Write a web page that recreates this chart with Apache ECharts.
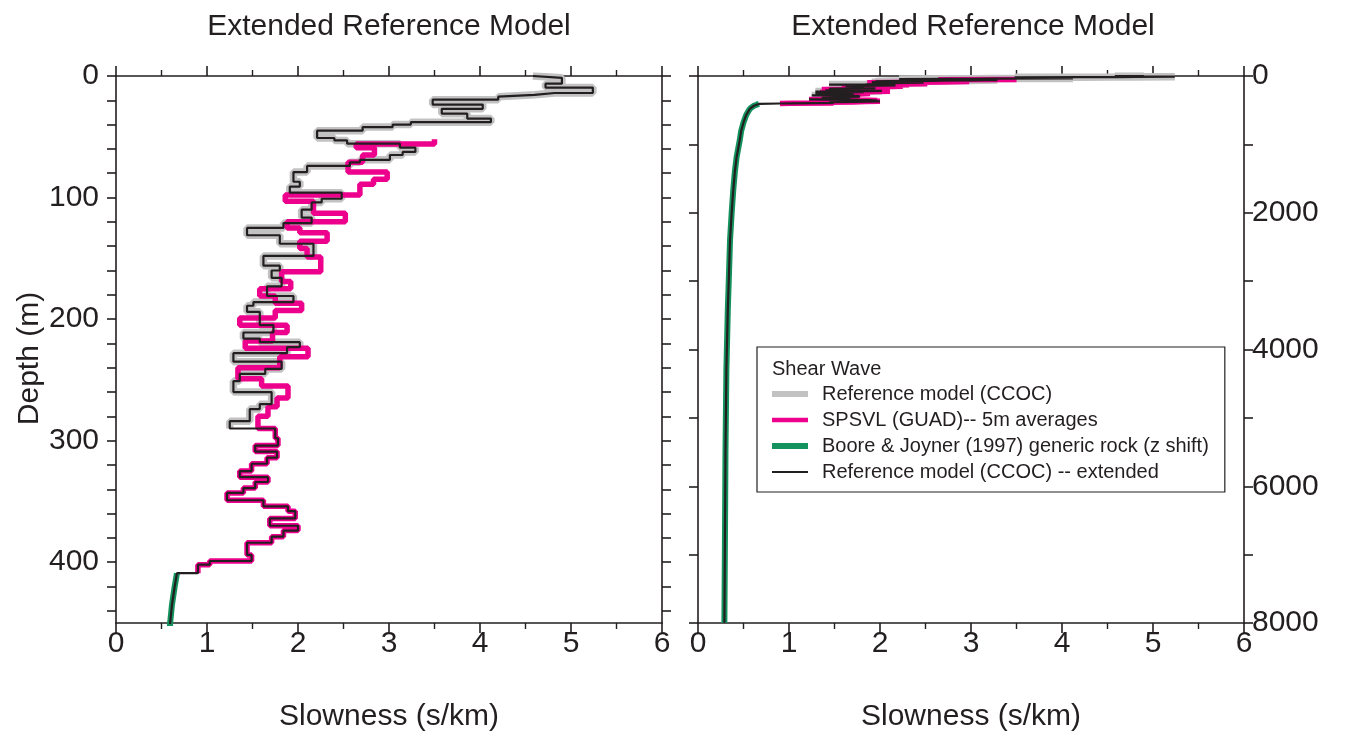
<!DOCTYPE html>
<html>
<head>
<meta charset="utf-8">
<title>Extended Reference Model</title>
<script src="https://cdn.jsdelivr.net/npm/echarts/dist/echarts.min.js"></script>
<style>
  html, body { margin: 0; padding: 0; background: #fff; }
  #main { width: 1346px; height: 737px; }
</style>
</head>
<body>
<div id="main"></div>
<script>
// reference model (CCOC): layer boundaries (m) and slowness (s/km) of each layer
var refDepth = [0, 1.5, 6.3, 9.5, 14, 15.5, 17, 19.5, 23.5, 27, 31, 35, 38, 40, 42, 45, 51, 53, 55.7, 59,
  62.5, 65, 69, 71, 74, 79, 87, 91, 96, 101, 104, 110, 116.5, 121, 125, 131, 138, 148, 156, 160,
  166, 173, 181, 186, 189, 194, 205, 211, 216, 219, 223, 228, 235, 241, 245, 251, 260, 270, 274, 284, 290];
var refSlow = [4.58, 4.90, 4.72, 5.24, 4.82, 4.60, 4.20, 3.48, 4.03, 3.58, 3.86, 4.12, 3.24, 3.04, 2.71, 2.21, 2.40, 2.54, 3.12, 3.29,
  3.15, 3.01, 2.68, 2.57, 2.10, 1.95, 2.02, 1.91, 2.48, 2.26, 2.15, 2.04, 2.15, 1.84, 1.44, 1.80, 2.17, 1.62, 1.80, 1.71,
  1.82, 1.66, 1.95, 1.51, 1.44, 1.58, 1.73, 1.40, 1.58, 2.02, 1.88, 1.29, 1.82, 1.64, 1.36, 1.29, 1.71, 1.58, 1.47, 1.25];

// SPSVL (GUAD) 5 m averages
var pinkDepth = [52, 56, 59, 65, 71, 79, 85, 89, 98, 103, 113, 120, 125, 129, 136, 142, 149, 161, 169, 175,
  181, 187, 193, 199, 205, 211, 218, 224, 231, 240, 249, 255, 265, 272, 280, 290, 298, 304, 309, 314,
  319, 325, 330, 334, 339, 343, 349, 354, 358, 364, 370, 374, 379, 384, 394, 399, 402, 409];
var pinkSlow = [3.50, 2.64, 2.84, 2.71, 2.55, 2.98, 2.83, 2.68, 1.86, 2.17, 2.52, 1.88, 2.02, 2.32, 2.02, 2.10, 2.25, 1.82, 1.92, 1.58,
  1.75, 2.04, 1.75, 1.36, 1.88, 1.72, 1.42, 2.11, 1.80, 1.34, 1.60, 1.89, 1.77, 1.67, 1.56, 1.75, 1.78, 1.53, 1.77, 1.66,
  1.49, 1.36, 1.67, 1.53, 1.40, 1.22, 1.62, 1.89, 1.97, 1.69, 2.00, 1.84, 1.71, 1.44, 1.49, 1.03, 0.90];

// Boore & Joyner (1997) generic rock, shifted in depth
var bjDepth = [409, 420, 435, 450, 470, 500, 570, 680, 800, 930, 1180, 1400, 1660, 2000, 2400, 3000, 3400, 4300, 5500, 7000, 8000];
var bjSlow = [0.67, 0.645, 0.615, 0.595, 0.578, 0.56, 0.53, 0.50, 0.475, 0.46, 0.425, 0.405, 0.388, 0.37, 0.352, 0.338, 0.328, 0.312, 0.302, 0.295, 0.29];

// axis ticks / labels
var xLabels = [0, 1, 2, 3, 4, 5, 6];
var leftDepthTicks = [0, 20, 40, 60, 80, 100, 120, 140, 160, 180, 200, 220, 240, 260, 280, 300, 320, 340, 360, 380, 400, 420, 440];
var leftDepthLabels = [0, 100, 200, 300, 400];
var rightDepthTicks = [0, 1000, 2000, 3000, 4000, 5000, 6000, 7000, 8000];
var rightDepthLabels = [0, 2000, 4000, 6000, 8000];

var names = ["Reference model (CCOC)", "SPSVL (GUAD)-- 5m averages",
  "Boore & Joyner (1997) generic rock (z shift)", "Reference model (CCOC) -- extended"];

var ink = "#231f20";
var gray = "#c2c2c2";
var pink = "#ec008c";
var green = "#14935e";
var font = "'Liberation Sans', Arial, Helvetica, sans-serif";

function steps(depths, slows) {
  var pts = [];
  for (var i = 0; i < slows.length; i++) {
    pts.push([slows[i], depths[i]]);
    pts.push([slows[i], depths[i + 1]]);
  }
  return pts;
}

var refPts = steps(refDepth, refSlow);
var pinkPts = steps(pinkDepth, pinkSlow);
var bjPts = bjDepth.map(function (d, i) { return [bjSlow[i], d]; });
var k = pinkDepth.indexOf(290);
var extPts = refPts.concat(steps(pinkDepth.slice(k), pinkSlow.slice(k))).concat(bjPts);

function xAxis(grid, pos, withName) {
  return {
    type: "value", gridIndex: grid, position: pos, min: 0, max: 6, interval: 1,
    axisLine: { show: true, onZero: false, lineStyle: { color: ink, width: 1.6 } },
    axisTick: { show: true, length: 10, lineStyle: { color: ink, width: 1.6 } },
    minorTick: { show: true, splitNumber: 2, length: 6, lineStyle: { color: ink, width: 1.4 } },
    splitLine: { show: false },
    axisLabel: {
      show: pos == "bottom", color: ink, fontSize: 30, fontFamily: font, margin: 6,
      customValues: xLabels
    },
    name: withName ? "Slowness (s/km)" : "",
    nameLocation: "middle", nameGap: 79,
    nameTextStyle: { color: ink, fontSize: 30, fontFamily: font }
  };
}

function yAxis(grid, pos, max, ticks, labels, showLabel, name) {
  return {
    type: "value", gridIndex: grid, position: pos, inverse: true, min: 0, max: max,
    axisLine: { show: true, onZero: false, lineStyle: { color: ink, width: 1.6 } },
    axisTick: { show: true, length: 9, customValues: ticks, lineStyle: { color: ink, width: 1.6 } },
    splitLine: { show: false },
    axisLabel: {
      show: showLabel, color: ink, fontSize: 30, fontFamily: font,
      margin: pos == "left" ? 17 : 8, customValues: labels,
      formatter: function (v) { return String(v); }
    },
    name: name || "",
    nameLocation: "middle", nameGap: 70,
    nameTextStyle: { color: ink, fontSize: 30, fontFamily: font, padding: [0, 18, 0, 0] }
  };
}

function panelSeries(xi, yi) {
  return [
    {
      name: names[0], type: "line", xAxisIndex: xi, yAxisIndex: yi, data: refPts,
      symbol: "none", lineStyle: { color: gray, width: 7.5 }, itemStyle: { color: gray }, z: 2
    },
    {
      name: names[1], type: "line", xAxisIndex: xi, yAxisIndex: yi, data: pinkPts,
      symbol: "none", lineStyle: { color: pink, width: 5.5 }, itemStyle: { color: pink }, z: 3
    },
    {
      name: names[2], type: "line", xAxisIndex: xi, yAxisIndex: yi, data: bjPts,
      symbol: "none", lineStyle: { color: green, width: 6 }, itemStyle: { color: green }, z: 3
    },
    {
      name: names[3], type: "line", xAxisIndex: xi, yAxisIndex: yi, data: extPts,
      symbol: "none", lineStyle: { color: ink, width: 2.2 }, itemStyle: { color: ink }, z: 4
    }
  ];
}

var myChart = echarts.init(document.getElementById("main"));
var option = {
  animation: false,
  textStyle: { fontFamily: font, color: ink },
  title: [
    { text: "Extended Reference Model", left: 384, top: 7, textAlign: "center",
      textStyle: { fontSize: 30, fontWeight: "normal", color: ink, fontFamily: font } },
    { text: "Extended Reference Model", left: 968, top: 7, textAlign: "center",
      textStyle: { fontSize: 30, fontWeight: "normal", color: ink, fontFamily: font } }
  ],
  grid: [
    { left: 116, top: 76, width: 546, height: 548 },
    { left: 698, top: 76, width: 546, height: 548 }
  ],
  xAxis: [xAxis(0, "bottom", true), xAxis(0, "top", false), xAxis(1, "bottom", true), xAxis(1, "top", false)],
  yAxis: [
    yAxis(0, "left", 450, leftDepthTicks, leftDepthLabels, true, "Depth (m)"),
    yAxis(0, "right", 450, leftDepthTicks, leftDepthLabels, false),
    yAxis(1, "left", 8000, rightDepthTicks, rightDepthLabels, false),
    yAxis(1, "right", 8000, rightDepthTicks, rightDepthLabels, true)
  ],
  legend: {
    data: [
      { name: names[0], icon: "path://M0,0H36V6H0Z" },
      { name: names[1], icon: "path://M0,0H36V4.5H0Z" },
      { name: names[2], icon: "path://M0,0H36V6H0Z" },
      { name: names[3], icon: "path://M0,0H36V2.2H0Z" }
    ],
    orient: "vertical", left: 757, top: 347,
    padding: [37, 16, 10, 15], itemGap: 6, itemWidth: 36, itemHeight: 14,
    borderColor: ink, borderWidth: 1.2, selectedMode: false,
    textStyle: { fontSize: 20, color: ink, fontFamily: font, padding: [0, 0, 0, 9] }
  },
  graphic: [
    { type: "text", left: 772, top: 359, style: { text: "Shear Wave", fill: ink, font: "20px " + font } }
  ],
  series: panelSeries(0, 0).concat(panelSeries(2, 3))
};
myChart.setOption(option);
</script>
</body>
</html>
